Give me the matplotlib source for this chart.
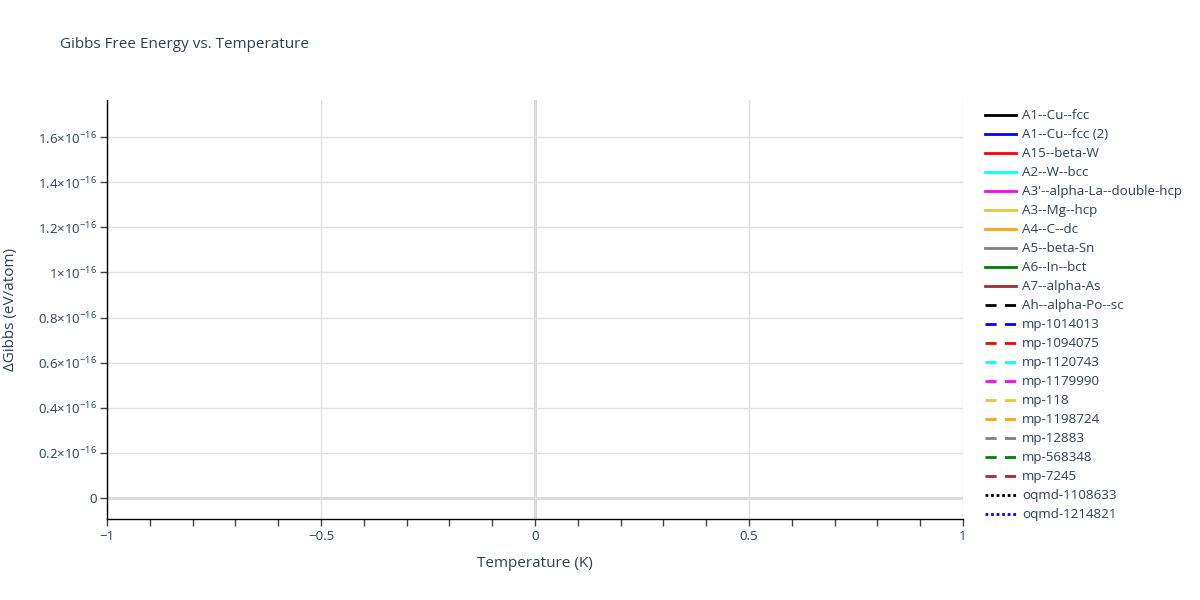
import matplotlib.pyplot as plt
from matplotlib.ticker import FixedLocator, MultipleLocator

plt.rcParams['font.family'] = ['Open Sans', 'DejaVu Sans']
plt.rcParams['mathtext.fontset'] = 'custom'
plt.rcParams['mathtext.rm'] = 'Open Sans'
plt.rcParams['mathtext.it'] = 'Open Sans'
plt.rcParams['mathtext.default'] = 'regular'

# every phase has one point at T=0 with zero relative free energy
names = ['A1--Cu--fcc', 'A1--Cu--fcc (2)', 'A15--beta-W', 'A2--W--bcc',
         "A3'--alpha-La--double-hcp", 'A3--Mg--hcp', 'A4--C--dc', 'A5--beta-Sn',
         'A6--In--bct', 'A7--alpha-As', 'Ah--alpha-Po--sc', 'mp-1014013',
         'mp-1094075', 'mp-1120743', 'mp-1179990', 'mp-118', 'mp-1198724',
         'mp-12883', 'mp-568348', 'mp-7245', 'oqmd-1108633', 'oqmd-1214821']
colors = ['black', 'blue', 'red', 'cyan', 'magenta', '#f0c23c', 'orange', 'grey',
          'green', 'brown', 'black', 'blue', 'red', 'cyan', 'magenta', '#f0c23c',
          'orange', 'grey', 'green', 'brown', 'black', 'blue']
styles = ['-'] * 10 + [(0, (4, 3))] * 10 + [(0, (1, 1))] * 2
temperature = [0.0]
dgibbs = [0.0]

yticks = [0, 0.2e-16, 0.4e-16, 0.6e-16, 0.8e-16, 1e-16, 1.2e-16, 1.4e-16, 1.6e-16]
ylabels = ['0', r'$0.2{\times}10^{-16}$', r'$0.4{\times}10^{-16}$', r'$0.6{\times}10^{-16}$',
           r'$0.8{\times}10^{-16}$', r'$1{\times}10^{-16}$', r'$1.2{\times}10^{-16}$',
           r'$1.4{\times}10^{-16}$', r'$1.6{\times}10^{-16}$']
xticks = [-1, -0.5, 0, 0.5, 1]
xlabels = ['\u22121', '\u22120.5', '0', '0.5', '1']

txt = '#2a3f5f'

fig = plt.figure(figsize=(12, 6), dpi=100)
ax = fig.add_axes([107 / 1200, 1 - 519 / 600, (963 - 107) / 1200, (519 - 100) / 600])

for n, c, s in zip(names, colors, styles):
    ax.plot(temperature, dgibbs, color=c, linestyle=s, linewidth=2, label=n)

ax.set_xlim(-1, 1)
ax.set_ylim(-0.093e-16, 1.764e-16)
ax.xaxis.set_major_locator(FixedLocator(xticks))
ax.set_xticklabels(xlabels)
ax.xaxis.set_minor_locator(MultipleLocator(0.1))
ax.set_yticks(yticks)
ax.set_yticklabels(ylabels)

ax.grid(True, which='major', color='#e0e0e0', linewidth=1)
ax.axhline(0, color='#d0d0d0', linewidth=2, zorder=0.5)
ax.axvline(0, color='#d0d0d0', linewidth=2, zorder=0.5)
ax.set_axisbelow(True)

for side in ['top', 'right']:
    ax.spines[side].set_visible(False)
for side in ['left', 'bottom']:
    ax.spines[side].set_color('black')
    ax.spines[side].set_linewidth(1)

ax.tick_params(axis='both', which='major', direction='out', length=5, width=1,
               color='#444444', labelcolor=txt)
ax.tick_params(axis='x', which='minor', direction='out', length=5, width=1, color='#444444')
ax.tick_params(axis='x', labelsize=9.5, pad=3)
ax.tick_params(axis='y', labelsize=9.5, pad=2)

ax.set_xlabel('Temperature (K)', fontsize=11, color=txt, labelpad=9)
ax.set_ylabel('\u0394Gibbs (eV/atom)', fontsize=11, color=txt)
ax.yaxis.set_label_coords(-0.104, 0.5)
fig.text(60 / 1200, 1 - 45 / 600, 'Gibbs Free Energy vs. Temperature',
         fontsize=11, color=txt, va='center')

leg = fig.legend(loc='upper left', bbox_to_anchor=(980 / 1200, 1 - 104 / 600),
                 frameon=False, fontsize=9.6, handlelength=2.3, handletextpad=0.45,
                 labelspacing=0.45, borderaxespad=0)
for t in leg.get_texts():
    t.set_color(txt)

fig.savefig('out.png', dpi=100)
